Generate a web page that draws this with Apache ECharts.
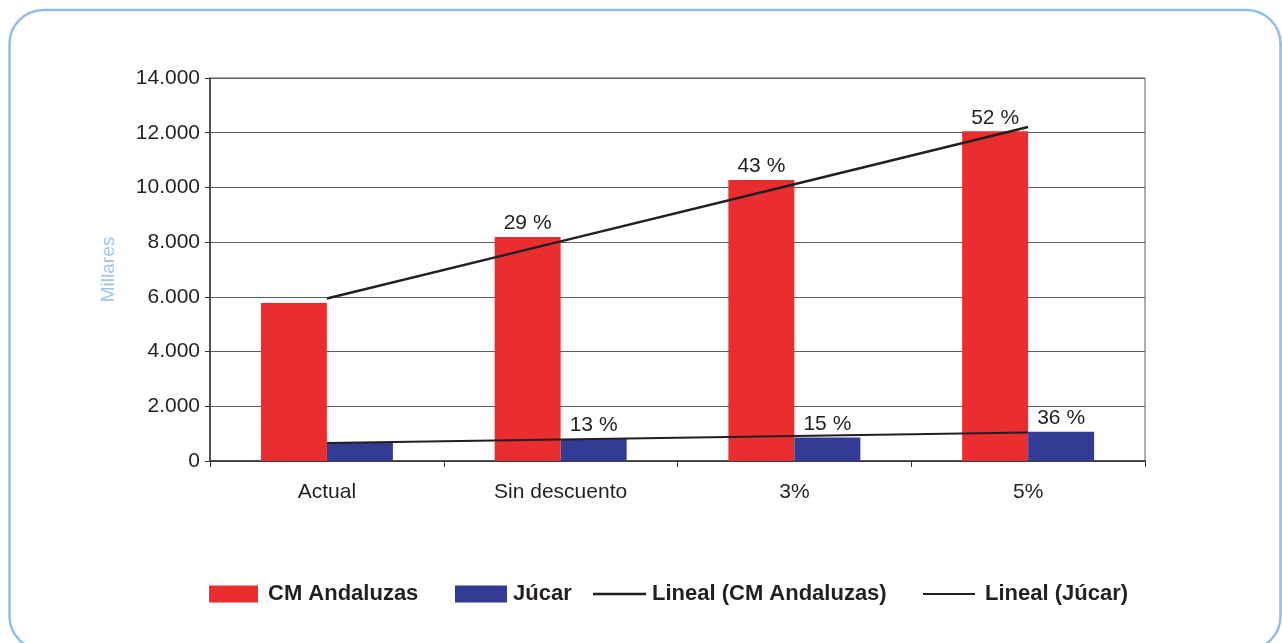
<!DOCTYPE html>
<html>
<head>
<meta charset="utf-8">
<script src="https://cdn.jsdelivr.net/npm/echarts@6/dist/echarts.min.js"></script>
<style>
html,body{margin:0;padding:0;background:#fff;}
#chart{width:1282px;height:643px;}
</style>
</head>
<body>
<div id="chart"></div>
<script>
var categories = ['Actual', 'Sin descuento', '3%', '5%'];
var cmAndaluzas = [5780, 8190, 10270, 12050];
var jucar = [660, 800, 860, 1070];
var cmPctLabels = ['', '29 %', '43 %', '52 %'];
var jucarPctLabels = ['', '13 %', '15 %', '36 %'];
var yTicks = [0, 2000, 4000, 6000, 8000, 10000, 12000, 14000];

function linearTrend(vals) {
  var n = vals.length, sx = 0, sy = 0, sxy = 0, sxx = 0;
  for (var i = 0; i < n; i++) { sx += i; sy += vals[i]; sxy += i * vals[i]; sxx += i * i; }
  var b = (n * sxy - sx * sy) / (n * sxx - sx * sx);
  var a = (sy - b * sx) / n;
  return vals.map(function (v, i) { return a + b * i; });
}

function fmtThousands(v) {
  return String(Math.round(v)).replace(/\B(?=(\d{3})+(?!\d))/g, '.');
}

var TXT = '#231f20';
var FONT = 'Arial, "Liberation Sans", Helvetica, sans-serif';
var RED = '#EA2E2F';
var BLUE = '#333B94';

var chart = echarts.init(document.getElementById('chart'), null, {renderer: 'canvas'});

function legendBox(name, left, top, w, h, gapPad) {
  return {
    data: [{name: name, icon: 'rect'}],
    left: left,
    top: top,
    itemWidth: w,
    itemHeight: h,
    padding: 0,
    selectedMode: false,
    textStyle: {fontFamily: FONT, fontSize: 22, fontWeight: 'bold', color: TXT, padding: [0, 0, 0, gapPad]}
  };
}

chart.setOption({
  animation: false,
  backgroundColor: '#ffffff',
  textStyle: {fontFamily: FONT},
  graphic: [{
    type: 'rect',
    shape: {x: 9.5, y: 10, width: 1271, height: 640, r: 34},
    style: {fill: 'none', stroke: '#90BEE6', lineWidth: 2.5},
    silent: true
  }],
  grid: {left: 210, right: 137, top: 78, bottom: 182, show: true, borderColor: '#5e5e5e', borderWidth: 1},
  legend: [
    legendBox('CM Andaluzas', 209, 583, 49, 17, 5),
    legendBox('Júcar', 455, 583, 52, 17, 1),
    legendBox('Lineal (CM Andaluzas)', 593, 583, 53, 2.5, 1),
    legendBox('Lineal (Júcar)', 923, 583, 52, 2, 5)
  ],
  xAxis: {
    type: 'category',
    data: categories,
    axisLine: {lineStyle: {color: '#333333', width: 1.5}},
    axisTick: {show: true, length: 6, lineStyle: {color: '#333333'}},
    axisLabel: {color: TXT, fontSize: 21, margin: 21, fontFamily: FONT},
    splitLine: {show: false}
  },
  yAxis: {
    type: 'value',
    min: yTicks[0],
    max: yTicks[yTicks.length - 1],
    interval: yTicks[1] - yTicks[0],
    name: 'Millares',
    nameLocation: 'middle',
    nameGap: 92,
    nameTextStyle: {color: '#9CC5EA', fontSize: 19, fontFamily: FONT},
    axisLine: {show: true, lineStyle: {color: '#333333', width: 1.5}},
    axisTick: {show: true, length: 5, lineStyle: {color: '#333333'}},
    axisLabel: {color: TXT, fontSize: 21, margin: 10, fontFamily: FONT, formatter: fmtThousands},
    splitLine: {show: true, lineStyle: {color: '#5e5e5e', width: 1.2}}
  },
  series: [
    {
      name: 'CM Andaluzas',
      type: 'bar',
      data: cmAndaluzas,
      barWidth: 66,
      barGap: '0%',
      itemStyle: {color: RED},
      label: {
        show: true, position: 'top', distance: 3,
        color: TXT, fontSize: 21, fontFamily: FONT,
        formatter: function (p) { return cmPctLabels[p.dataIndex]; }
      }
    },
    {
      name: 'Júcar',
      type: 'bar',
      data: jucar,
      barWidth: 66,
      barGap: '0%',
      itemStyle: {color: BLUE},
      label: {
        show: true, position: 'top', distance: 3,
        color: TXT, fontSize: 21, fontFamily: FONT,
        formatter: function (p) { return jucarPctLabels[p.dataIndex]; }
      }
    },
    {
      name: 'Lineal (CM Andaluzas)',
      type: 'line',
      data: linearTrend(cmAndaluzas),
      symbol: 'none',
      lineStyle: {color: TXT, width: 2.5},
      itemStyle: {color: TXT},
      z: 5
    },
    {
      name: 'Lineal (Júcar)',
      type: 'line',
      data: linearTrend(jucar),
      symbol: 'none',
      lineStyle: {color: TXT, width: 2},
      itemStyle: {color: TXT},
      z: 5
    }
  ]
});
</script>
</body>
</html>
